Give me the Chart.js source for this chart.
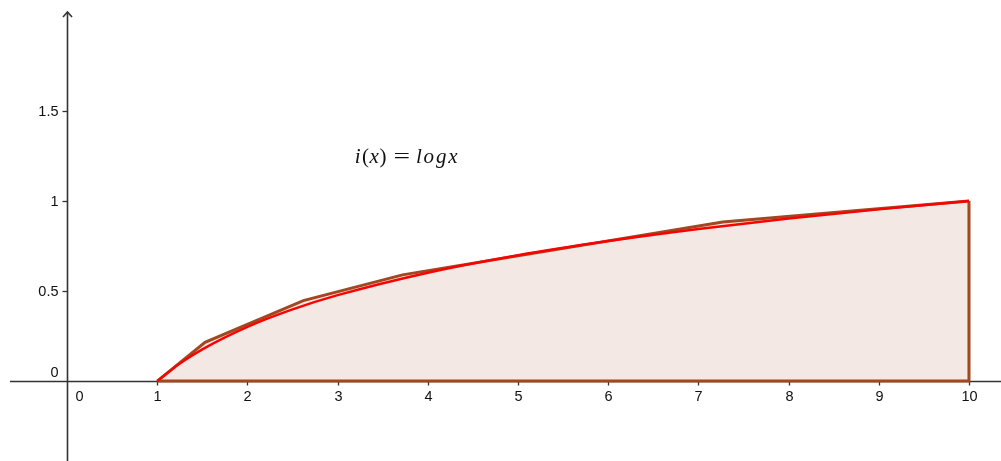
<!DOCTYPE html>
<html>
<head>
<meta charset="utf-8">
<script src="https://cdn.jsdelivr.net/npm/chart.js@4/dist/chart.umd.min.js"></script>
<style>
html,body{margin:0;padding:0;background:#fff;}
#wrap{width:1001px;height:461px;position:relative;}
</style>
</head>
<body>
<div id="wrap"><canvas id="c"></canvas></div>
<script>
// ---- data ----
const curveX = [1, 1.25, 1.5, 2, 2.5, 3, 4, 5, 6, 7, 8, 9, 10];
const curveY = [0, 0.097, 0.176, 0.301, 0.398, 0.477, 0.602, 0.699, 0.778, 0.845, 0.903, 0.954, 1.0];
const polyTopX = [1, 1.53, 2.62, 3.72, 7.27, 10];
const polyTopY = [0, 0.215, 0.447, 0.59, 0.884, 1.0];
const polyEdgeX = [10, 10, 1];
const polyEdgeY = [1.0, 0, 0];
const xTicks = [0, 1, 2, 3, 4, 5, 6, 7, 8, 9, 10];
const xTickLabels = ['0', '1', '2', '3', '4', '5', '6', '7', '8', '9', '10'];
const yTicks = [0, 0.5, 1, 1.5];
const yTickLabels = ['0', '0.5', '1', '1.5'];
const formulaPos = {x: 3.19, y: 1.21};
const formulaParts = ['i(x)', '=', 'logx'];

const curveData = curveX.map((x, i) => ({x, y: curveY[i]}));
const polyTop = polyTopX.map((x, i) => ({x, y: polyTopY[i]}));
const polyEdge = polyEdgeX.map((x, i) => ({x, y: polyEdgeY[i]}));

const axesPlugin = {
  id: 'ggbAxes',
  beforeDatasetsDraw(chart) {
    const {ctx, chartArea, scales} = chart;
    const xs = scales.x, ys = scales.y;
    const x0 = Math.round(xs.getPixelForValue(0)) + 0.5;
    const y0 = Math.round(ys.getPixelForValue(0)) + 0.5;
    ctx.save();
    ctx.strokeStyle = '#333';
    ctx.lineWidth = 1.6;
    ctx.beginPath();
    ctx.moveTo(chartArea.left + 10, y0);
    ctx.lineTo(chartArea.right, y0);
    ctx.stroke();
    ctx.beginPath();
    ctx.moveTo(x0, chartArea.bottom);
    ctx.lineTo(x0, chartArea.top + 12);
    ctx.stroke();
    ctx.beginPath();
    ctx.moveTo(x0 - 4.5, chartArea.top + 17);
    ctx.lineTo(x0, chartArea.top + 12);
    ctx.lineTo(x0 + 4.5, chartArea.top + 17);
    ctx.stroke();
    ctx.lineWidth = 1.3;
    ctx.fillStyle = '#111';
    ctx.font = '14.5px "Liberation Sans", Arial, sans-serif';
    xTicks.forEach((v, i) => {
      const px = Math.round(xs.getPixelForValue(v)) + 0.5;
      if (v !== 0) {
        ctx.beginPath();
        ctx.moveTo(px, y0);
        ctx.lineTo(px, y0 + 4);
        ctx.stroke();
      }
      ctx.textAlign = 'center';
      ctx.textBaseline = 'top';
      const lx = v === 0 ? px + 12 : px;
      ctx.fillText(xTickLabels[i], lx, y0 + 8);
    });
    yTicks.forEach((v, i) => {
      const py = Math.round(ys.getPixelForValue(v)) + 0.5;
      ctx.textAlign = 'right';
      ctx.textBaseline = 'middle';
      if (v === 0) {
        ctx.fillText(yTickLabels[i], x0 - 9, py - 9);
      } else {
        ctx.beginPath();
        ctx.moveTo(x0 - 5, py);
        ctx.lineTo(x0, py);
        ctx.stroke();
        ctx.fillText(yTickLabels[i], x0 - 9, py);
      }
    });
    ctx.restore();
  },
  afterDatasetsDraw(chart) {
    const {ctx, scales} = chart;
    const px = scales.x.getPixelForValue(formulaPos.x);
    const py = scales.y.getPixelForValue(formulaPos.y);
    ctx.save();
    ctx.fillStyle = '#111';
    ctx.textAlign = 'left';
    ctx.textBaseline = 'alphabetic';
    const it = 'italic 21px "Liberation Serif", "DejaVu Serif", serif';
    const up = '21px "Liberation Serif", "DejaVu Serif", serif';
    let x = px;
    const seq = [['i', it, 1.5], ['(', up, 0.5], ['x', it, 0.5], [')', up, 0]];
    seq.forEach(([t, f, g]) => { ctx.font = f; ctx.fillText(t, x, py); x += ctx.measureText(t).width + g; });
    x += 7;
    ctx.font = up;
    ctx.save();
    ctx.translate(x, py);
    ctx.scale(1.4, 1);
    ctx.fillText(formulaParts[1], 0, 0);
    ctx.restore();
    x += ctx.measureText('=').width * 1.4 + 6;
    ctx.font = it;
    ['l', 'o', 'g', 'x'].forEach(t => { ctx.fillText(t, x, py); x += ctx.measureText(t).width + 1.8; });
    ctx.restore();
  }
};

new Chart(document.getElementById('c'), {
  type: 'scatter',
  data: {
    datasets: [
      {
        data: polyTop,
        showLine: true,
        fill: 'origin',
        backgroundColor: 'rgb(244,232,228)',
        borderColor: 'rgb(160,72,32)',
        borderWidth: 3,
        pointRadius: 0,
        tension: 0,
        order: 3
      },
      {
        data: polyEdge,
        showLine: true,
        fill: false,
        borderColor: 'rgb(160,72,32)',
        borderWidth: 3,
        pointRadius: 0,
        tension: 0,
        order: 2
      },
      {
        data: curveData,
        showLine: true,
        fill: false,
        borderColor: '#ff0000',
        borderWidth: 2.4,
        pointRadius: 0,
        cubicInterpolationMode: 'monotone',
        order: 1
      }
    ]
  },
  options: {
    responsive: true,
    maintainAspectRatio: false,
    animation: false,
    layout: {padding: 0},
    plugins: {legend: {display: false}, tooltip: {enabled: false}},
    scales: {
      x: {type: 'linear', min: -0.743, max: 10.355, display: false},
      y: {type: 'linear', min: -0.444, max: 2.117, display: false}
    }
  },
  plugins: [axesPlugin]
});
</script>
</body>
</html>
